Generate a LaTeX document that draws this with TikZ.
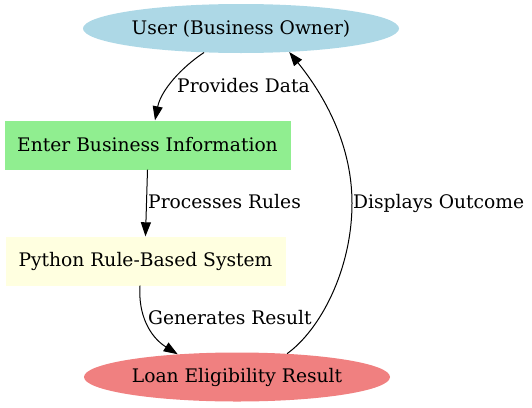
\documentclass[tikz,border=0pt]{standalone}
\usepackage{fontspec}
\setmainfont{DejaVu Serif}
\usepackage{xcolor}
\usepackage{tikz}
\usetikzlibrary{shapes.geometric,arrows.meta,positioning,calc}

\definecolor{lblue}{HTML}{ADD8E6}
\definecolor{lgreen}{HTML}{90EE90}
\definecolor{lyellow}{HTML}{FFFFE0}
\definecolor{lcoral}{HTML}{F08080}

\tikzset{
    ovalnode/.style={ellipse, inner sep=0pt, minimum width=316pt, minimum height=49pt},
    boxnode/.style={rectangle, inner sep=0pt, minimum height=49pt},
    edgelbl/.style={anchor=base west, inner sep=0pt},
    flow/.style={line width=1pt, -{Triangle[length=14pt,width=10pt]}}
}

\begin{document}
\begin{tikzpicture}[x=1pt, y=-1pt, font=\fontsize{18.67}{22}\selectfont]
    \useasboundingbox (0,0) rectangle (532,407);
    \node[ovalnode, fill=lblue] (user) at (241,28.5) {User (Business Owner)};
    \node[boxnode, fill=lgreen, minimum width=286pt] (info) at (147.5,145) {Enter Business Information};
    \node[boxnode, fill=lyellow, minimum width=280pt] (rules) at (145.5,261) {Python Rule-Based System};
    \node[ovalnode, fill=lcoral, minimum width=306pt] (result) at (237,377) {Loan Eligibility Result};

    \draw[flow] (user.-147) .. controls (182,67) and (161,90) .. ([xshift=7.5pt]info.north);
    \draw[flow] (info.south) -- (rules.north);
    \draw[flow] ([xshift=-5.5pt]rules.south) .. controls (138,315) and (150,337) .. (result.159);
    \draw[flow] (result.25) .. controls (320,330) and (352,270) .. (352,203) .. controls (352,140) and (320,90) .. (user.-26);

    \node[edgelbl] (provides) at (177,92) {Provides Data};
    \node[edgelbl] (processes) at (148,208) {Processes Rules};
    \node[edgelbl] (generates) at (148,324) {Generates Result};
    \node[edgelbl] (displays) at (353,208) {Displays Outcome};
\end{tikzpicture}
\end{document}
